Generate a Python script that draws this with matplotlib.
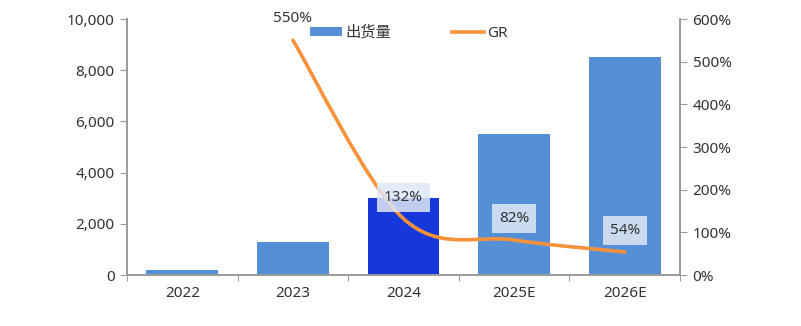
import matplotlib
matplotlib.use("Agg")
import matplotlib.pyplot as plt
from matplotlib.path import Path
from matplotlib.patches import PathPatch, Patch
from matplotlib.lines import Line2D
import numpy as np

plt.rcParams['font.family'] = ['Noto Sans', 'Noto Sans CJK SC', 'DejaVu Sans']

categories = ["2022", "2023", "2024", "2025E", "2026E"]
shipments = [200, 1300, 3000, 5500, 8500]
gr_categories = ["2023", "2024", "2025E", "2026E"]
gr_values = [550, 132, 82, 54]
gr_labels = ["550%", "132%", "82%", "54%"]
left_ticks = [0, 2000, 4000, 6000, 8000, 10000]
right_ticks = [0, 100, 200, 300, 400, 500, 600]

bar_color = "#5590d6"
hl_color = "#1638da"
line_color = "#f7923a"
spine_color = "#9a9a9a"
text_color = "#333333"
fs = 11

fig = plt.figure(figsize=(8.01, 3.26), dpi=100)
ax = fig.add_axes([0.1586, 0.1564, 0.849 - 0.1586, 0.9417 - 0.1564])
ax2 = ax.twinx()

x = np.arange(len(categories))
colors = [hl_color if c == "2024" else bar_color for c in categories]
ax.bar(x, shipments, width=0.65, color=colors, zorder=2)

ax.set_xlim(-0.5, len(categories) - 0.5)
ax.set_ylim(0, 10000)
ax2.set_ylim(0, 600)
ax.set_yticks(left_ticks)
ax.set_yticklabels([f"{v:,}" for v in left_ticks])
ax2.set_yticks(right_ticks)
ax2.set_yticklabels([f"{v}%" for v in right_ticks])

ax.set_xticks(np.arange(-0.5, len(categories)))
ax.set_xticklabels([])
ax.set_xticks(x, minor=True)
ax.set_xticklabels(categories, minor=True)
ax.tick_params(axis='x', which='minor', length=0, pad=8, labelsize=fs, labelcolor=text_color)
ax.tick_params(axis='x', which='major', length=4, color=spine_color, direction='out')
ax.tick_params(axis='y', length=5, color=spine_color, labelsize=fs, labelcolor=text_color, pad=4)
ax2.tick_params(axis='y', length=5, color=spine_color, labelsize=fs, labelcolor=text_color, pad=4)

for a in (ax, ax2):
    a.spines['top'].set_visible(False)
    for s in ('left', 'right', 'bottom'):
        a.spines[s].set_color(spine_color)
        a.spines[s].set_linewidth(1.2)

# smoothed growth-rate line (Catmull-Rom style Bezier through the data points)
gx = np.array([categories.index(c) for c in gr_categories], dtype=float)
gy = np.array(gr_values, dtype=float)
pts = np.column_stack([gx, gy])
verts = [pts[0]]
codes = [Path.MOVETO]
n = len(pts)
for i in range(n - 1):
    p0 = pts[i - 1] if i > 0 else pts[i]
    p1 = pts[i]
    p2 = pts[i + 1]
    p3 = pts[i + 2] if i + 2 < n else pts[i + 1]
    c1 = p1 + (p2 - p0) / 6.0
    c2 = p2 - (p3 - p1) / 6.0
    verts += [c1, c2, p2]
    codes += [Path.CURVE4] * 3
path = Path(verts, codes)
ax2.add_patch(PathPatch(path, facecolor='none', edgecolor=line_color, lw=2.6,
                        capstyle='round', zorder=3))

for i, (xx, yy, lab) in enumerate(zip(gx, gy, gr_labels)):
    bbox = None if i == 0 else dict(boxstyle='square,pad=0.45', facecolor='#dfe8f5',
                                     edgecolor='none', alpha=0.85)
    ax2.annotate(lab, (xx, yy), xytext=(0, 15.5), textcoords='offset points',
                 ha='center', va='center', fontsize=fs, color=text_color,
                 bbox=bbox, zorder=4)

handles = [Patch(facecolor=bar_color, edgecolor='none'),
           Line2D([0], [0], color=line_color, lw=2.6)]
fig.legend(handles, ["出货量", "GR"], loc='center left', bbox_to_anchor=(0.370, 0.898),
           ncol=2, frameon=False, fontsize=fs, handlelength=2.1, handleheight=0.5,
           handletextpad=0.2, columnspacing=4.0, labelcolor=text_color)

fig.savefig("out.png", dpi=100)
